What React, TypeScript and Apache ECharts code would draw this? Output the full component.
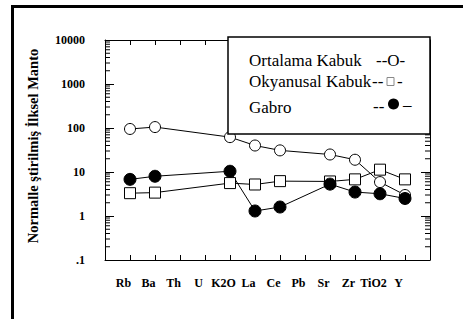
import React, { useEffect, useRef } from "react";
import * as echarts from "echarts";

const categories = ["Rb", "Ba", "Th", "U", "K2O", "La", "Ce", "Pb", "Sr", "Zr", "TiO2", "Y"];
const ortalamaKabuk: (number | null)[] = [95, 105, null, null, 62, 40, 31, null, 25, 19, 5.9, 3.0];
const okyanusalKabuk: (number | null)[] = [3.3, 3.4, null, null, 5.6, 5.2, 6.2, null, 6.1, 6.8, 11.3, 6.8];
const gabro: (number | null)[] = [6.8, 8.0, null, null, 10.4, 1.3, 1.6, null, 5.3, 3.5, 3.2, 2.5];

const yTickLabels: Record<string, string> = { "0.1": ".1", "1": "1", "10": "10", "100": "100", "1000": "1000", "10000": "10000" };
const decades = [0.1, 1, 10, 100, 1000];
const minorSteps = [2, 3, 4, 5, 6, 7, 8, 9];

const FONT = "Liberation Serif";

function toPairs(vals: (number | null)[]) {
  const out: [number, number][] = [];
  vals.forEach((v, i) => {
    if (v !== null) out.push([i + 1, v]);
  });
  return out;
}

function legendText(text: string, x: number, y: number) {
  return {
    type: "text",
    z: 101,
    x,
    y,
    style: { text, fontFamily: FONT, fontSize: 17, fill: "#000", verticalAlign: "middle" },
  };
}

export default function App() {
  const ref = useRef<HTMLDivElement>(null);
  useEffect(() => {
    document.body.style.margin = "0";
    if (!ref.current) return;
    const chart = echarts.init(ref.current, null, { renderer: "svg" });
    const minorTicks: number[][] = [];
    decades.forEach((d) => minorSteps.forEach((s) => minorTicks.push([0, +(d * s).toPrecision(3)])));

    const lineBase = {
      type: "line" as const,
      connectNulls: true,
      symbolSize: 11,
      lineStyle: { color: "#000", width: 1 },
      z: 3,
    };

    chart.setOption({
      animation: false,
      backgroundColor: "#fff",
      textStyle: { fontFamily: FONT },
      grid: { left: 105, top: 40, right: 38, bottom: 59 },
      xAxis: [
        {
          type: "value",
          min: 0,
          max: 13,
          interval: 1,
          splitLine: { show: false },
          axisLine: { show: true, lineStyle: { color: "#000", width: 1 } },
          axisTick: { show: true, inside: true, length: 5, lineStyle: { color: "#000" } },
          axisLabel: {
            margin: 17,
            color: "#000",
            fontFamily: FONT,
            fontWeight: "bold",
            fontSize: 12,
            padding: [0, 13, 0, 0],
            formatter: (v: number) => categories[v - 1] ?? "",
          },
        },
        {
          type: "value",
          position: "top",
          min: 0,
          max: 13,
          interval: 1,
          splitLine: { show: false },
          axisLine: { show: true, onZero: false, lineStyle: { color: "#000", width: 1 } },
          axisTick: { show: true, inside: true, length: 5, lineStyle: { color: "#000" } },
          axisLabel: { show: false },
        },
      ],
      yAxis: [
        {
          type: "log",
          logBase: 10,
          min: 0.1,
          max: 10000,
          splitNumber: 5,
          splitLine: { show: false },
          axisLine: { show: true, lineStyle: { color: "#000", width: 1 } },
          axisTick: { show: true, inside: true, length: 9, lineStyle: { color: "#000" } },
          axisLabel: {
            margin: 20,
            color: "#000",
            fontFamily: FONT,
            fontWeight: "bold",
            fontSize: 12,
            padding: [12, 0, 0, 0],
            formatter: (v: number) => yTickLabels[String(+v.toPrecision(3))] ?? String(v),
          },
          name: "Normalle ştirilmiş İlksel Manto",
          nameLocation: "middle",
          nameGap: 65,
          nameTextStyle: { color: "#000", fontFamily: FONT, fontWeight: "bold", fontSize: 14.5, padding: [0, 0, 0, 8] },
        },
        {
          type: "log",
          logBase: 10,
          min: 0.1,
          max: 10000,
          splitNumber: 5,
          position: "right",
          splitLine: { show: false },
          axisLine: { show: true, onZero: false, lineStyle: { color: "#000", width: 1 } },
          axisTick: { show: true, inside: true, length: 9, lineStyle: { color: "#000" } },
          axisLabel: { show: false },
        },
      ],
      series: [
        {
          type: "custom",
          silent: true,
          clip: false,
          z: 2,
          data: minorTicks,
          renderItem: (_params: any, api: any) => {
            const v = api.value(1);
            const pl = api.coord([0, v]);
            const pr = api.coord([13, v]);
            return {
              type: "group",
              children: [
                { type: "line", shape: { x1: pl[0], y1: pl[1], x2: pl[0] + 5, y2: pl[1] }, style: { stroke: "#000", lineWidth: 1 } },
                { type: "line", shape: { x1: pr[0] - 5, y1: pr[1], x2: pr[0], y2: pr[1] }, style: { stroke: "#000", lineWidth: 1 } },
              ],
            };
          },
        },
        {
          ...lineBase,
          name: "Ortalama Kabuk",
          symbol: "circle",
          itemStyle: { color: "#fff", borderColor: "#000", borderWidth: 1 },
          data: toPairs(ortalamaKabuk),
        },
        {
          ...lineBase,
          name: "Okyanusal Kabuk",
          symbol: "rect",
          symbolSize: 11,
          itemStyle: { color: "#fff", borderColor: "#000", borderWidth: 1 },
          data: toPairs(okyanusalKabuk),
        },
        {
          ...lineBase,
          name: "Gabro",
          symbol: "circle",
          symbolSize: 12,
          itemStyle: { color: "#000", borderColor: "#000", borderWidth: 1 },
          data: toPairs(gabro),
        },
      ],
      graphic: [
        { type: "rect", z: 100, shape: { x: 228, y: 37, width: 202, height: 97 }, style: { fill: "#fff", stroke: "#000", lineWidth: 1.5 } },
        legendText("Ortalama Kabuk", 249, 60),
        legendText("--O-", 376, 60),
        legendText("Okyanusal Kabuk", 249, 81),
        legendText("--", 372, 81),
        { type: "rect", z: 101, shape: { x: 387, y: 77.5, width: 7, height: 8 }, style: { fill: "#fff", stroke: "#888", lineWidth: 1 } },
        legendText("-", 397, 81),
        legendText("Gabro", 249, 107),
        legendText("--", 373, 106),
        { type: "circle", z: 101, shape: { cx: 393.5, cy: 104, r: 5.5 }, style: { fill: "#000" } },
        legendText("–", 403, 104),
      ],
    });
    return () => chart.dispose();
  }, []);
  return (
    <div style={{ position: "fixed", left: 0, top: 0, width: 468, height: 319, overflow: "hidden", background: "#fff" }}>
      <div ref={ref} style={{ position: "absolute", left: 0, top: 0, width: 468, height: 319 }} />
      <div style={{ position: "absolute", left: 11, top: 5, width: 452, height: 2.5, background: "#000" }} />
      <div style={{ position: "absolute", left: 11, top: 5, width: 2.5, height: 314, background: "#000" }} />
    </div>
  );
}
